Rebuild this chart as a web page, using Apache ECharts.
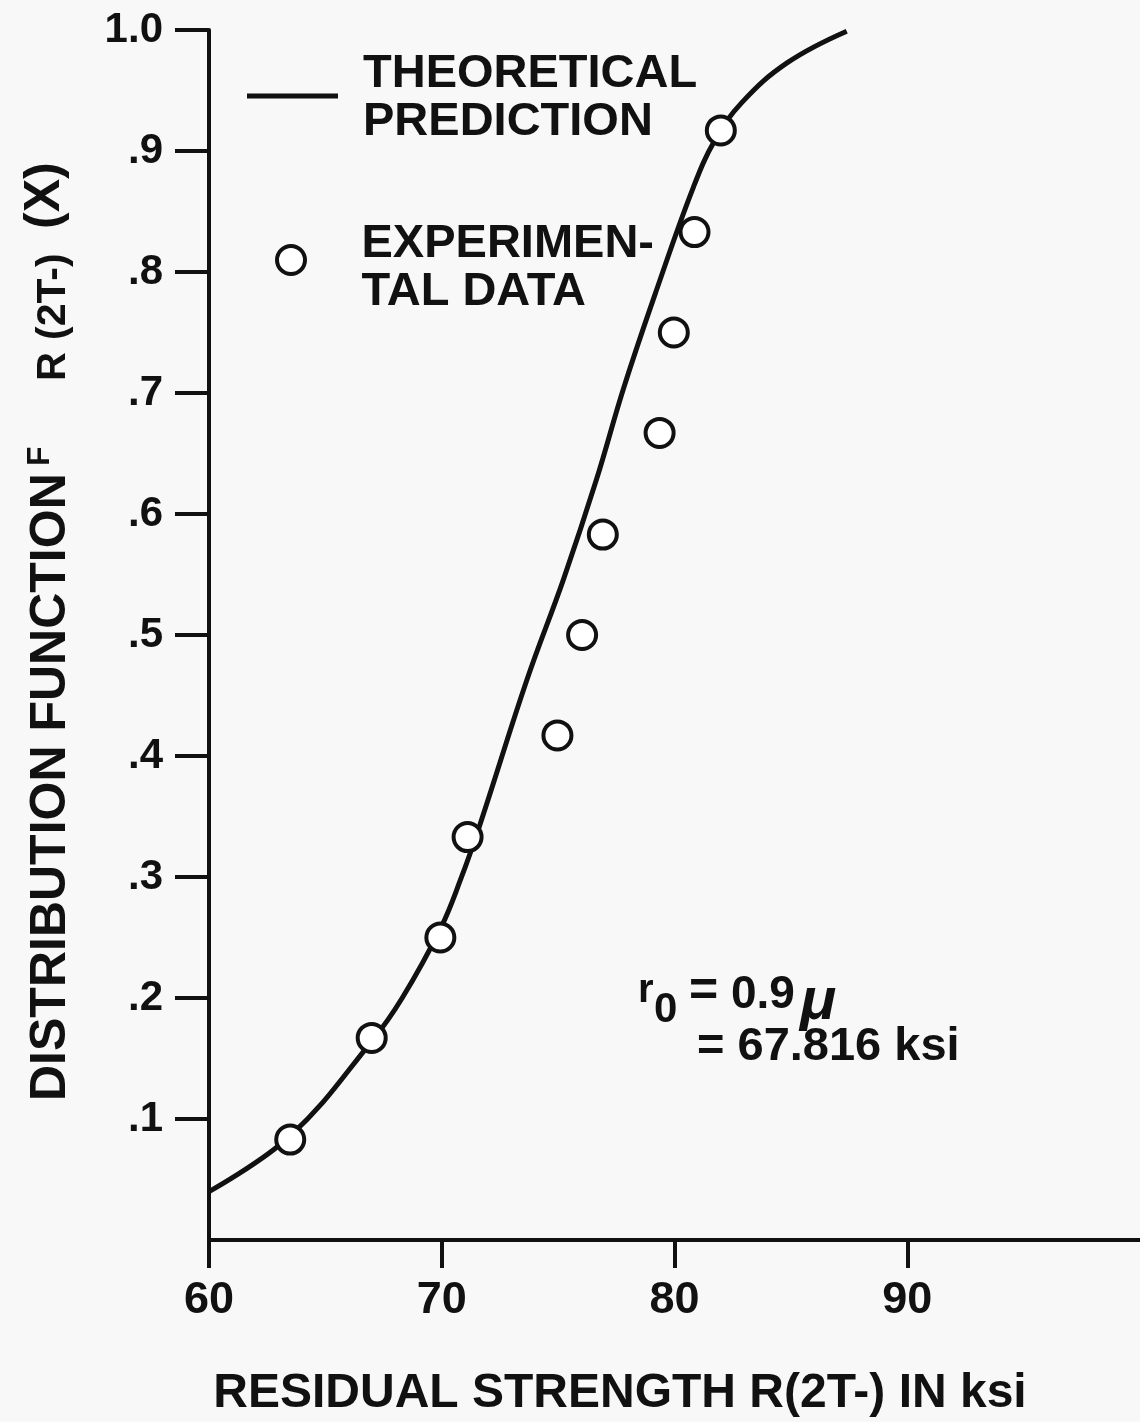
<!DOCTYPE html>
<html><head><meta charset="utf-8">
<script src="https://cdn.jsdelivr.net/npm/echarts@6/dist/echarts.min.js"></script>
<style>html,body{margin:0;padding:0;background:#f8f8f8}#c{width:1140px;height:1422px}</style>
</head><body><div id="c"></div>
<script>
// ---- data ----
const xTickValues = [60, 70, 80, 90];
const yTickValues = [0.1, 0.2, 0.3, 0.4, 0.5, 0.6, 0.7, 0.8, 0.9, 1.0];
const yTickLabels = ['.1', '.2', '.3', '.4', '.5', '.6', '.7', '.8', '.9', '1.0'];

// theoretical prediction curve
const curveX = [60.0, 63.49, 66.98, 68.30, 69.96, 70.81, 71.62, 73.66, 75.23, 76.64, 77.83, 79.28, 80.81, 81.74, 82.89, 84.85, 87.40];
const curveY = [0.040, 0.086, 0.164, 0.200, 0.258, 0.298, 0.342, 0.463, 0.546, 0.628, 0.705, 0.788, 0.870, 0.909, 0.940, 0.973, 0.999];

// experimental data (circles)
const dataX = [63.49, 66.99, 69.94, 71.11, 74.97, 76.03, 76.92, 79.36, 79.97, 80.86, 81.99];
const dataY = [0.083, 0.167, 0.250, 0.333, 0.417, 0.500, 0.583, 0.667, 0.750, 0.833, 0.917];

const LINE_NAME = 'THEORETICAL\nPREDICTION';
const PTS_NAME = 'EXPERIMEN-\nTAL DATA';
const xTitle = 'RESIDUAL STRENGTH R(2T-) IN ksi';

// ---- chart ----
const FF = '"Liberation Sans", Arial, Helvetica, sans-serif';
const INK = '#111';
const chart = echarts.init(document.getElementById('c'), null, {renderer: 'canvas'});

function legendText(name) {
  const lines = name.split('\n').map(s => '{t|' + s + '}');
  return '{s| }\n' + lines.join('\n');
}
function legendRich(lead) {
  return {
    s: {fontSize: 4, lineHeight: lead},
    t: {fontSize: 47, fontWeight: 'bold', fontFamily: FF, color: INK, lineHeight: 48}
  };
}
function vText(str, x, y, size) {
  return {type: 'text', x: x, y: y, rotation: Math.PI / 2,
    style: {text: str, fontSize: size, fontWeight: 'bold', fontFamily: FF, fill: INK, textAlign: 'left', textVerticalAlign: 'middle'}};
}
function hText(str, x, y, size, extra) {
  return {type: 'text', x: x, y: y,
    style: Object.assign({text: str, fontSize: size, fontWeight: 'bold', fontFamily: FF, fill: INK, textAlign: 'left', textVerticalAlign: 'middle'}, extra || {})};
}

chart.setOption({
  animation: false,
  backgroundColor: '#f8f8f8',
  textStyle: {fontFamily: FF, color: INK},
  grid: {left: 209, top: 30, bottom: 182, right: -9, containLabel: false},
  xAxis: {
    type: 'value', min: 60, max: 100, interval: 10,
    axisLine: {show: true, lineStyle: {color: INK, width: 4}},
    axisTick: {show: true, length: 28, lineStyle: {color: INK, width: 4}, customValues: xTickValues},
    axisLabel: {margin: 38, fontSize: 45, fontWeight: 'bold', color: INK, fontFamily: FF, customValues: xTickValues},
    splitLine: {show: false}
  },
  yAxis: {
    type: 'value', min: 0, max: 1, interval: 0.1,
    axisLine: {show: true, lineStyle: {color: INK, width: 4}},
    axisTick: {show: true, length: 34, lineStyle: {color: INK, width: 4}, customValues: yTickValues},
    axisLabel: {
      margin: 46, fontSize: 42, fontWeight: 'bold', color: INK, fontFamily: FF,
      customValues: yTickValues,
      formatter: function (v) { const i = Math.round(v * 10) - 1; return yTickLabels[i] || ''; }
    },
    splitLine: {show: false}
  },
  legend: [
    {
      data: [{name: LINE_NAME, icon: 'rect'}],
      left: 247, top: 46, padding: 0, orient: 'vertical', selectedMode: false,
      itemWidth: 91, itemHeight: 5,
      itemStyle: {color: INK, borderWidth: 0},
      formatter: n => legendText(n),
      textStyle: {fontSize: 47, fontWeight: 'bold', fontFamily: FF, color: INK, padding: [0, 0, 0, 20], rich: legendRich(5)}
    },
    {
      data: [{name: PTS_NAME, icon: 'circle'}],
      left: 275, top: 210, padding: 0, orient: 'vertical', selectedMode: false,
      itemWidth: 91, itemHeight: 28,
      itemStyle: {color: '#fff', borderColor: INK, borderWidth: 4},
      formatter: n => legendText(n),
      textStyle: {fontSize: 47, fontWeight: 'bold', fontFamily: FF, color: INK, padding: [0, 0, 0, 20], rich: legendRich(16)}
    }
  ],
  series: [
    {
      name: LINE_NAME, type: 'line', smooth: 0.4, symbol: 'none', showSymbol: false,
      data: curveX.map((x, i) => [x, curveY[i]]),
      lineStyle: {color: INK, width: 5}, itemStyle: {color: INK}, z: 2, silent: true
    },
    {
      name: PTS_NAME, type: 'scatter', symbol: 'circle', symbolSize: 28,
      data: dataX.map((x, i) => [x, dataY[i]]),
      itemStyle: {color: '#fff', borderColor: INK, borderWidth: 4, opacity: 1}, z: 3, silent: true
    }
  ],
  graphic: [
    {type: 'text', x: 620, y: 1394, style: {text: xTitle, fontSize: 48, fontWeight: 'bold', fontFamily: FF, fill: INK, textAlign: 'center', textVerticalAlign: 'middle'}},
    vText('DISTRIBUTION FUNCTION', 51, 1101, 50),
    vText('F', 40, 466, 32),
    vText('R', 54, 381, 40),
    vText('(2T-)', 54, 340, 41),
    vText('(X)', 45, 229, 50),
    hText('r', 638, 991, 40),
    hText('0', 654, 1010, 42),
    hText('=', 689, 992, 50),
    hText('0.9', 731, 995, 46),
    hText('μ', 800, 1002, 60, {fontStyle: 'italic'}),
    hText('= 67.816 ksi', 697, 1047, 47)
  ]
});
</script>
</body></html>
